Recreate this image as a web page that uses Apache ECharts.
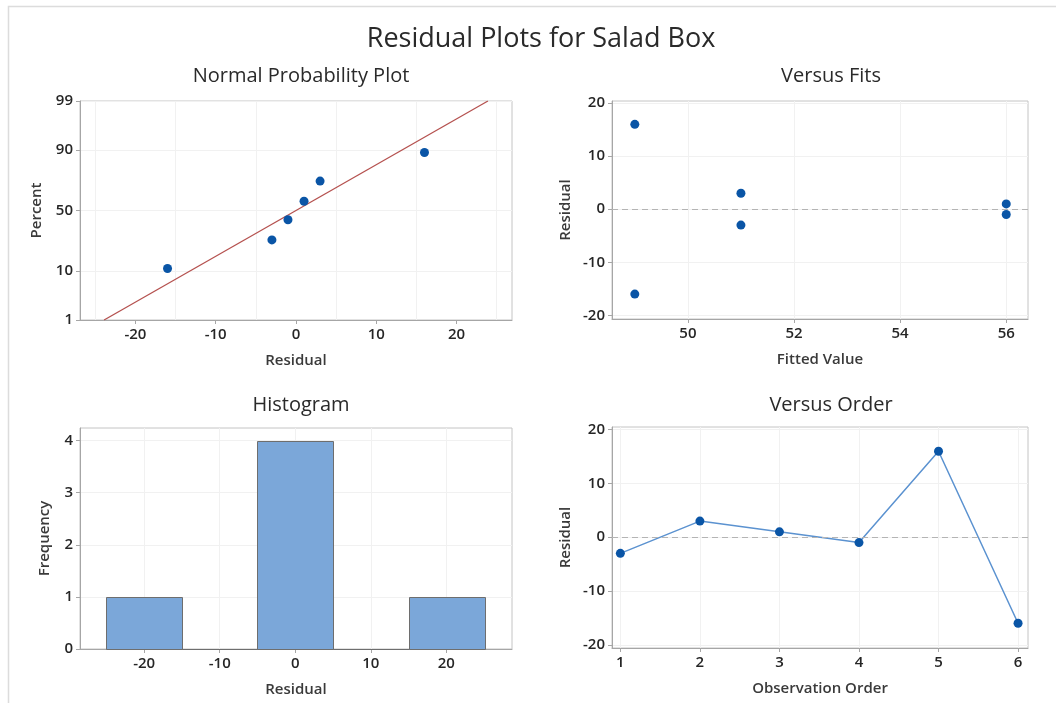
<!DOCTYPE html>
<html>
<head>
<meta charset="utf-8">
<script src="https://cdn.jsdelivr.net/npm/echarts@6/dist/echarts.min.js"></script>
<style>
html,body{margin:0;padding:0;background:#fff;}
#main{width:1056px;height:703px;}
</style>
</head>
<body>
<div id="main"></div>
<script>
// ---------------- data ----------------
const obsOrder = [1, 2, 3, 4, 5, 6];
const residuals = [-3, 3, 1, -1, 16, -16];
const fittedValues = [51, 51, 56, 56, 49, 49];

// normal probability plot (sorted residuals and their plotting percentiles)
const probResiduals = [-16, -3, -1, 1, 3, 16];
const probPercents = [10.9, 26.6, 42.2, 57.8, 73.4, 89.1];
const fitLineResiduals = [-23.9, 23.9];
const fitLinePercents = [1, 99];
const probPercentTicks = [1, 10, 50, 90, 99];
const probResidualTicks = [-20, -10, 0, 10, 20];
const probGridResiduals = [-25, -15, -5, 5, 15, 25];

// histogram
const histBinStart = [-25, -15, -5, 5, 15];
const histBinEnd = [-15, -5, 5, 15, 25];
const histFreq = [1, 0, 4, 0, 1];
const histXTicks = [-20, -10, 0, 10, 20];
const histYTicks = [0, 1, 2, 3, 4];

// versus fits / order ticks
const fitsXTicks = [50, 52, 54, 56];
const residTicks = [-20, -10, 0, 10, 20];
const orderTicks = [1, 2, 3, 4, 5, 6];

// ---------------- probability axis transform ----------------
function probit(p) {
  const a = [-3.969683028665376e+01, 2.209460984245205e+02, -2.759285104469687e+02, 1.383577518672690e+02, -3.066479806614716e+01, 2.506628277459239e+00];
  const b = [-5.447609879822406e+01, 1.615858368580409e+02, -1.556989798598866e+02, 6.680131188771972e+01, -1.328068155288572e+01];
  const c = [-7.784894002430293e-03, -3.223964580411365e-01, -2.400758277161838e+00, -2.549732539343734e+00, 4.374664141464968e+00, 2.938163982698783e+00];
  const d = [7.784695709041462e-03, 3.224671290700398e-01, 2.445134137142996e+00, 3.754408661907416e+00];
  const plow = 0.02425;
  let q, r;
  if (p < plow) {
    q = Math.sqrt(-2 * Math.log(p));
    return (((((c[0]*q+c[1])*q+c[2])*q+c[3])*q+c[4])*q+c[5]) / ((((d[0]*q+d[1])*q+d[2])*q+d[3])*q+1);
  } else if (p <= 1 - plow) {
    q = p - 0.5; r = q*q;
    return (((((a[0]*r+a[1])*r+a[2])*r+a[3])*r+a[4])*r+a[5])*q / (((((b[0]*r+b[1])*r+b[2])*r+b[3])*r+b[4])*r+1);
  } else {
    q = Math.sqrt(-2 * Math.log(1 - p));
    return -(((((c[0]*q+c[1])*q+c[2])*q+c[3])*q+c[4])*q+c[5]) / ((((d[0]*q+d[1])*q+d[2])*q+d[3])*q+1);
  }
}
const pz = v => probit(v / 100);
const probZTicks = probPercentTicks.map(pz);

// ---------------- styling ----------------
const FONT = 'Open Sans';
const markerColor = '#0a55a6';
const labelStyle = {color: '#262626', fontSize: 15, fontFamily: FONT, fontWeight: 600};
const nameStyle = {color: '#3a3a3a', fontSize: 15, fontFamily: FONT, fontWeight: 600};
const axisLineStyle = {show: true, lineStyle: {color: '#a6a6a6', width: 1}};
const tickStyle = {show: true, length: 4, lineStyle: {color: '#a6a6a6'}};
const gridLine = {show: true, lineStyle: {color: '#f1f1f1', width: 1}};
const titleStyle = (s) => ({fontSize: s, fontWeight: 500, color: '#2a2a2a', fontFamily: FONT});

function grid(left, top, width, height) {
  return {left, top, width, height, show: true, borderColor: '#c4c4c4', borderWidth: 1, backgroundColor: 'transparent'};
}

function valAxis(opts) {
  return {
    type: 'value',
    gridIndex: opts.grid,
    min: opts.min, max: opts.max,
    name: opts.name, nameLocation: 'middle', nameGap: opts.nameGap,
    nameTextStyle: nameStyle,
    axisLine: Object.assign({onZero: false}, axisLineStyle),
    axisTick: Object.assign({customValues: opts.ticks}, tickStyle),
    axisLabel: Object.assign({customValues: opts.ticks, margin: 7, formatter: opts.formatter || (v => String(v))}, labelStyle),
    splitLine: opts.split === false ? {show: false} : gridLine
  };
}

const zeroLine = {
  silent: true, symbol: 'none', label: {show: false},
  lineStyle: {color: '#b4b4b4', type: [6, 4], width: 1},
  data: [{yAxis: 0}]
};

const option = {
  backgroundColor: '#fff',
  animation: false,
  graphic: [{
    type: 'rect', silent: true,
    shape: {x: 8.5, y: 6.5, width: 1200, height: 900},
    style: {fill: 'none', stroke: '#dcdcdc', lineWidth: 1.5}
  }],
  title: [
    {text: 'Residual Plots for Salad Box', left: 536, top: 21, textAlign: 'center', textStyle: titleStyle(27)},
    {text: 'Normal Probability Plot', left: 296, top: 61, textAlign: 'center', textStyle: titleStyle(20)},
    {text: 'Versus Fits', left: 826, top: 61, textAlign: 'center', textStyle: titleStyle(20)},
    {text: 'Histogram', left: 296, top: 390, textAlign: 'center', textStyle: titleStyle(20)},
    {text: 'Versus Order', left: 826, top: 390, textAlign: 'center', textStyle: titleStyle(20)}
  ],
  grid: [
    grid(80, 101, 432, 219),
    grid(612, 101, 416, 218),
    grid(80, 428, 432, 221),
    grid(612, 427, 416, 221)
  ],
  xAxis: [
    valAxis({grid: 0, min: -26.9, max: 26.9, ticks: probResidualTicks, name: 'Residual', nameGap: 33, split: false}),
    valAxis({grid: 1, min: 48.57, max: 56.41, ticks: fitsXTicks, name: 'Fitted Value', nameGap: 33}),
    valAxis({grid: 2, min: -28.5, max: 28.7, ticks: histXTicks, name: 'Residual', nameGap: 33}),
    valAxis({grid: 3, min: 0.895, max: 6.125, ticks: orderTicks, name: 'Observation Order', nameGap: 33})
  ],
  yAxis: [
    valAxis({grid: 0, min: pz(fitLinePercents[0]), max: pz(fitLinePercents[1]), ticks: probZTicks, name: 'Percent', nameGap: 36,
      formatter: v => {
        let best = probPercentTicks[0], bd = Infinity;
        probPercentTicks.forEach(p => { const dd = Math.abs(pz(p) - v); if (dd < bd) { bd = dd; best = p; } });
        return String(best);
      }}),
    valAxis({grid: 1, min: -20.7, max: 20.4, ticks: residTicks, name: 'Residual', nameGap: 39}),
    valAxis({grid: 2, min: 0, max: 4.24, ticks: histYTicks, name: 'Frequency', nameGap: 28}),
    valAxis({grid: 3, min: -20.6, max: 20.5, ticks: residTicks, name: 'Residual', nameGap: 39})
  ],
  series: [
    {
      type: 'line', xAxisIndex: 0, yAxisIndex: 0, z: 2,
      data: fitLineResiduals.map((r, i) => [r, pz(fitLinePercents[i])]),
      symbol: 'none', lineStyle: {color: '#b5514f', width: 1.3},
      markLine: {
        silent: true, symbol: 'none', label: {show: false}, z: 1,
        lineStyle: {color: '#f1f1f1', type: 'solid', width: 1},
        data: probGridResiduals.map(v => ({xAxis: v}))
      }
    },
    {
      type: 'scatter', xAxisIndex: 0, yAxisIndex: 0, z: 3,
      data: probResiduals.map((r, i) => [r, pz(probPercents[i])]),
      symbol: 'circle', symbolSize: 9, itemStyle: {color: markerColor, opacity: 1}
    },
    {
      type: 'scatter', xAxisIndex: 1, yAxisIndex: 1, z: 3,
      data: fittedValues.map((f, i) => [f, residuals[i]]),
      symbol: 'circle', symbolSize: 9, itemStyle: {color: markerColor, opacity: 1},
      markLine: zeroLine
    },
    {
      type: 'custom', xAxisIndex: 2, yAxisIndex: 2, z: 3,
      data: histBinStart.map((s, i) => [s, histBinEnd[i], histFreq[i]]),
      encode: {x: [0, 1], y: 2},
      renderItem: function (params, api) {
        const p0 = api.coord([api.value(0), api.value(2)]);
        const p1 = api.coord([api.value(1), 0]);
        return {
          type: 'rect',
          shape: {x: Math.round(p0[0]) + 0.5, y: Math.round(p0[1]) + 0.5,
                  width: Math.round(p1[0] - p0[0]), height: Math.round(p1[1] - p0[1])},
          style: {fill: '#7ba7d9', stroke: '#6e6e6e', lineWidth: 1}
        };
      }
    },
    {
      type: 'line', xAxisIndex: 3, yAxisIndex: 3, z: 3,
      data: obsOrder.map((o, i) => [o, residuals[i]]),
      symbol: 'circle', symbolSize: 9, showSymbol: true,
      lineStyle: {color: '#5b92d0', width: 1.5},
      itemStyle: {color: markerColor},
      markLine: zeroLine
    }
  ]
};

const chart = echarts.init(document.getElementById('main'), null, {renderer: 'canvas'});
chart.setOption(option);
</script>
</body>
</html>
